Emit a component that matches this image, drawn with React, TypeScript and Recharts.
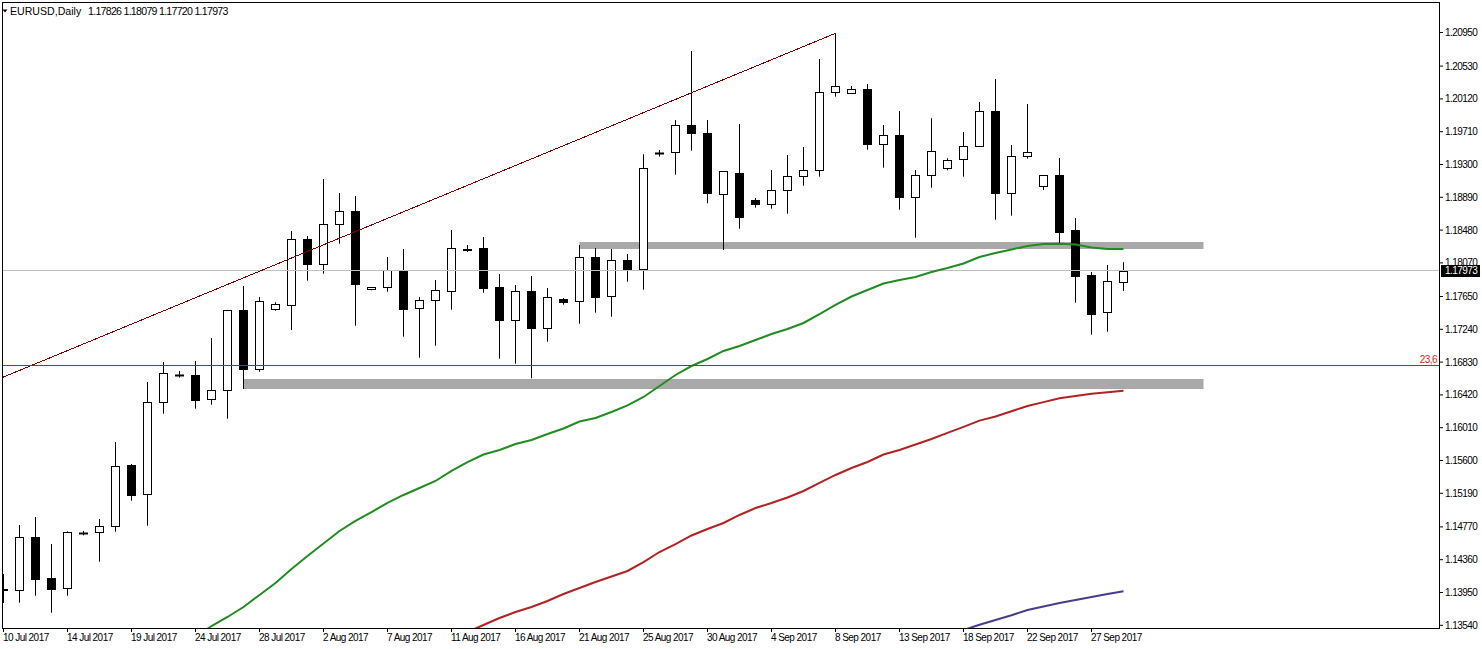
import React from 'react';
import { ComposedChart, Bar, Line, XAxis, YAxis, ReferenceLine, ReferenceArea } from 'recharts';

const W = 1482;
const H = 649;
const FONT = '"Liberation Sans", Arial, sans-serif';

const symbolTitle = 'EURUSD,Daily';

const opens = [
  1.13986, 1.13978, 1.1464, 1.14128, 1.14003, 1.14695, 1.14703, 1.14778, 1.1554, 1.15178,
  1.16328, 1.16675, 1.16669, 1.16365, 1.16478, 1.17478, 1.16748, 1.1749, 1.1754, 1.18365,
  1.1806, 1.18553, 1.18715, 1.1774, 1.17765, 1.17978, 1.17503, 1.17603, 1.17715, 1.18236,
  1.18253, 1.17765, 1.17353, 1.17715, 1.1726, 1.17619, 1.1759, 1.1814, 1.17653, 1.18103,
  1.17998, 1.19445, 1.19453, 1.1979, 1.1969, 1.18935, 1.1919, 1.18853, 1.18803, 1.18978,
  1.19153, 1.19228, 1.20203, 1.2019, 1.2024, 1.19553, 1.19665, 1.18898, 1.19165, 1.19253,
  1.19365, 1.19528, 1.19965, 1.18948, 1.19403, 1.19028, 1.19165, 1.18478, 1.17915, 1.17453,
  1.17826,
];
const highs = [
  1.14181, 1.14794, 1.14894, 1.14556, 1.14715, 1.14719, 1.14869, 1.15831, 1.15556, 1.16581,
  1.16831, 1.16719, 1.16844, 1.17131, 1.17481, 1.17781, 1.17644, 1.17578, 1.18469, 1.18406,
  1.19119, 1.18944, 1.18906, 1.17769, 1.18144, 1.18244, 1.17644, 1.17856, 1.18481, 1.18294,
  1.18394, 1.17931, 1.17794, 1.17906, 1.17756, 1.17631, 1.18294, 1.18256, 1.18244, 1.18181,
  1.19428, 1.19481, 1.19856, 1.20719, 1.19856, 1.19215, 1.19806, 1.18881, 1.19231, 1.19419,
  1.19519, 1.20619, 1.2094, 1.20281, 1.20306, 1.19794, 1.19969, 1.19231, 1.19878, 1.19378,
  1.19706, 1.20081, 1.20369, 1.19544, 1.20056, 1.19165, 1.19381, 1.18631, 1.17956, 1.18044,
  1.18079,
];
const lows = [
  1.13819, 1.13823, 1.1391, 1.13698, 1.1391, 1.14665, 1.14335, 1.1471, 1.15098, 1.14785,
  1.16185, 1.16635, 1.16248, 1.16298, 1.16123, 1.16494, 1.1671, 1.17473, 1.17231, 1.17848,
  1.17935, 1.1831, 1.17285, 1.17728, 1.1771, 1.17148, 1.16885, 1.17035, 1.17485, 1.18206,
  1.17698, 1.16873, 1.1681, 1.16628, 1.17085, 1.17548, 1.1731, 1.17448, 1.17398, 1.17835,
  1.17735, 1.19398, 1.19173, 1.19473, 1.18815, 1.18231, 1.18498, 1.1876, 1.18748, 1.18685,
  1.19035, 1.19148, 1.20148, 1.2019, 1.19485, 1.1926, 1.18735, 1.18385, 1.1901, 1.19228,
  1.19148, 1.19528, 1.1861, 1.1866, 1.19373, 1.18981, 1.18315, 1.17573, 1.17173, 1.1721,
  1.1772,
];
const closes = [
  1.13994, 1.1464, 1.14115, 1.13998, 1.14703, 1.147, 1.14778, 1.15528, 1.15173, 1.16328,
  1.1669, 1.1667, 1.1636, 1.16478, 1.17478, 1.16748, 1.1759, 1.17553, 1.18365, 1.1806,
  1.18553, 1.18715, 1.1781, 1.17765, 1.17978, 1.17498, 1.17603, 1.17728, 1.18253, 1.18244,
  1.1776, 1.17353, 1.17715, 1.1726, 1.1764, 1.17585, 1.1814, 1.17648, 1.18103, 1.17998,
  1.19253, 1.1945, 1.1979, 1.19698, 1.18948, 1.19215, 1.18648, 1.18803, 1.18978, 1.19153,
  1.19228, 1.20203, 1.20278, 1.2024, 1.1956, 1.19665, 1.18898, 1.19165, 1.19465, 1.19353,
  1.19528, 1.19965, 1.18948, 1.19403, 1.19453, 1.19165, 1.1846, 1.1791, 1.17435, 1.1784,
  1.17973,
];

const N = null;
const maGreen = [
  N, N, N, N, N, N, N, N, N, N, N, N,
  1.13394, 1.13531, 1.13644, 1.13769, 1.13919, 1.14069, 1.14244, 1.14406,
  1.14563, 1.14719, 1.14844, 1.14956, 1.15069, 1.15169, 1.15256, 1.15344, 1.15469, 1.15581,
  1.15675, 1.15731, 1.15806, 1.15856, 1.15931, 1.16, 1.16088, 1.16131, 1.16206, 1.16288,
  1.16394, 1.16531, 1.16669, 1.16781, 1.16869, 1.16969, 1.17031, 1.17106, 1.17181, 1.17244,
  1.17319, 1.17431, 1.17544, 1.1765, 1.17731, 1.17813, 1.17856, 1.17894, 1.17956, 1.18006,
  1.18063, 1.18144, 1.18194, 1.18238, 1.18281, 1.18306, 1.1831, 1.183, 1.18263, 1.18244,
  1.18244,
];
const maRed = [
  N, N, N, N, N, N, N, N, N, N, N, N, N, N, N, N, N, N, N, N,
  N, N, N, N, N, N, N, N, N,
  1.13456,
  1.13544, 1.13631, 1.13706, 1.13769, 1.13844, 1.13931, 1.14006, 1.14081, 1.1415, 1.14219,
  1.14331, 1.14456, 1.14556, 1.14663, 1.14744, 1.14819, 1.14919, 1.15006, 1.15069, 1.15138,
  1.15219, 1.15319, 1.15419, 1.15506, 1.15581, 1.15675, 1.15731, 1.158, 1.15869, 1.15946,
  1.16021, 1.16099, 1.16151, 1.16216, 1.16281, 1.1633, 1.16378, 1.16406, 1.16434, 1.16453,
  1.16473,
];
const maBlue = [
  N, N, N, N, N, N, N, N, N, N, N, N, N, N, N, N, N, N, N, N,
  N, N, N, N, N, N, N, N, N, N, N, N, N, N, N, N, N, N, N, N,
  N, N, N, N, N, N, N, N, N, N, N, N, N, N, N, N, N, N, N, N,
  1.13481, 1.13546, 1.13606, 1.13666, 1.13731, 1.13775, 1.13819, 1.13856, 1.13894, 1.13931,
  1.13965,
];

const dateTickIndex = [0, 4, 8, 12, 16, 20, 24, 28, 32, 36, 40, 44, 48, 52, 56, 60, 64, 68];
const dateTickLabels = [
  '10 Jul 2017', '14 Jul 2017', '19 Jul 2017', '24 Jul 2017', '28 Jul 2017', '2 Aug 2017',
  '7 Aug 2017', '11 Aug 2017', '16 Aug 2017', '21 Aug 2017', '25 Aug 2017', '30 Aug 2017',
  '4 Sep 2017', '8 Sep 2017', '13 Sep 2017', '18 Sep 2017', '22 Sep 2017', '27 Sep 2017',
];
const priceTicks = [
  1.2095, 1.2053, 1.2012, 1.1971, 1.193, 1.1889, 1.1848, 1.1807, 1.1765, 1.1724,
  1.1683, 1.1642, 1.1601, 1.156, 1.1519, 1.1477, 1.1436, 1.1395, 1.1354,
];

const bidPrice = 1.17973;
const fibLevel = 1.16788;
const fibText = '23,6';
const trendIdx = [-0.09375, 52];
const trendPrice = [1.16636, 1.2094];
const zoneUpperIdx = [36, 75];
const zoneUpperPrice = [1.18244, 1.18331];
const zoneLowerIdx = [15, 75];
const zoneLowerPrice = [1.16494, 1.16619];

const data = opens.map((o, i) => ({
  i,
  o,
  h: highs[i],
  l: lows[i],
  c: closes[i],
  g: maGreen[i],
  r: maRed[i],
  b: maBlue[i],
}));

const Candle = (props: any) => {
  const { x, y, width, height, payload } = props;
  if (!payload || x == null || y == null || height == null) return null;
  const { o, h, l, c } = payload;
  const top = Math.min(y, y + height);
  const hh = Math.abs(height);
  const cx = Math.round(x + width / 2 - 0.5) + 0.5;
  const ppx = hh / (h - l);
  const yOf = (p: number) => top + (h - p) * ppx;
  const bt = Math.round(yOf(Math.max(o, c))) + 0.5;
  const bb = Math.round(yOf(Math.min(o, c))) + 0.5;
  const bull = c >= o;
  return (
    <g>
      <line x1={cx} x2={cx} y1={top} y2={top + hh} stroke="#000" strokeWidth={1} />
      {bb - bt < 1 ? (
        <line x1={cx - 4.5} x2={cx + 4.5} y1={bt} y2={bt} stroke="#000" strokeWidth={2} />
      ) : (
        <rect x={cx - 4} y={bt} width={8} height={bb - bt} fill={bull ? '#fff' : '#000'} stroke="#000" strokeWidth={1} />
      )}
    </g>
  );
};

const XTick = (props: any) => {
  const { x, y, payload } = props;
  const k = dateTickIndex.indexOf(payload.value);
  return (
    <text x={x - 0.5} y={y} dy="0.71em" textAnchor="start" fontSize={10} fontFamily={FONT} letterSpacing={-0.55} fill="#000">
      {k >= 0 ? dateTickLabels[k] : ''}
    </text>
  );
};

const YTick = (props: any) => {
  const { x, y, payload } = props;
  return (
    <text x={x} y={y} dy="0.355em" textAnchor="start" fontSize={10} fontFamily={FONT} letterSpacing={-0.55} fill="#000">
      {Number(payload.value).toFixed(5)}
    </text>
  );
};

const BidLabel = (props: any) => {
  const vb = props.viewBox || {};
  const x = (vb.x || 0) + (vb.width || 0) + 2;
  const y = vb.y || 0;
  return (
    <g>
      <rect x={x} y={Math.round(y) - 6} width={39} height={12} fill="#000" />
      <text x={x + 4} y={y} dy="0.355em" fontSize={10} fontFamily={FONT} letterSpacing={-0.55} fill="#fff">
        {bidPrice.toFixed(5)}
      </text>
    </g>
  );
};

const FibLabel = (props: any) => {
  const vb = props.viewBox || {};
  const x = (vb.x || 0) + (vb.width || 0) - 2;
  const y = (vb.y || 0) - 2;
  return (
    <text x={x} y={y} textAnchor="end" fontSize={10} fontFamily={FONT} letterSpacing={-0.55} fill="#d02828">
      {fibText}
    </text>
  );
};

export default function App() {
  return (
    <div style={{ position: 'absolute', left: 0, top: 0, width: W, height: H, background: '#fff', overflow: 'hidden' }}>
      <ComposedChart width={W} height={H} data={data} margin={{ top: 2, right: 0, bottom: 0, left: 2 }}>
        <XAxis
          type="number"
          dataKey="i"
          domain={[-0.09375, 89.71875]}
          allowDataOverflow
          ticks={dateTickIndex}
          interval={0}
          tick={<XTick />}
          tickSize={4}
          tickLine={{ stroke: '#000' }}
          axisLine={false}
          height={21}
        />
        <YAxis
          orientation="right"
          type="number"
          domain={[1.1350625, 1.2133125]}
          allowDataOverflow
          ticks={priceTicks}
          interval={0}
          tick={<YTick />}
          tickSize={4}
          tickLine={{ stroke: '#000' }}
          axisLine={false}
          width={43}
        />
        <ReferenceArea
          x1={zoneUpperIdx[0]}
          x2={zoneUpperIdx[1]}
          y1={zoneUpperPrice[0]}
          y2={zoneUpperPrice[1]}
          fill="#a9a9a9"
          fillOpacity={1}
          stroke="none"
          ifOverflow="visible"
        />
        <ReferenceArea
          x1={zoneLowerIdx[0]}
          x2={zoneLowerIdx[1]}
          y1={zoneLowerPrice[0]}
          y2={zoneLowerPrice[1]}
          fill="#a9a9a9"
          fillOpacity={1}
          stroke="none"
          ifOverflow="visible"
        />
        <ReferenceLine y={bidPrice} stroke="#c0c0c0" strokeWidth={1} shapeRendering="crispEdges" label={<BidLabel />} ifOverflow="visible" />
        <Bar dataKey={(d: any) => [d.l, d.h]} shape={(p: any) => <Candle {...p} />} isAnimationActive={false} />
        <Line dataKey="g" type="linear" stroke="#228b22" strokeWidth={2} dot={false} activeDot={false} isAnimationActive={false} />
        <Line dataKey="r" type="linear" stroke="#b22222" strokeWidth={2} dot={false} activeDot={false} isAnimationActive={false} />
        <Line dataKey="b" type="linear" stroke="#483d8b" strokeWidth={2} dot={false} activeDot={false} isAnimationActive={false} />
        <ReferenceLine
          segment={[
            { x: trendIdx[0], y: trendPrice[0] },
            { x: trendIdx[1], y: trendPrice[1] },
          ]}
          stroke="#800000"
          strokeWidth={1}
          shapeRendering="crispEdges"
          ifOverflow="visible"
        />
        <ReferenceLine y={fibLevel} stroke="#a52a2a" strokeWidth={1} shapeRendering="crispEdges" label={<FibLabel />} ifOverflow="visible" />
      </ComposedChart>
      <div
        style={{
          position: 'absolute',
          left: 2,
          top: 2,
          width: 1438,
          height: 627,
          border: '1px solid #000',
          boxSizing: 'border-box',
          pointerEvents: 'none',
        }}
      />
      <svg style={{ position: 'absolute', left: 0, top: 0, pointerEvents: 'none' }} width={320} height={20}>
        <polygon points="2.5,9.5 7.5,9.5 5,12.5" fill="#000" />
        <text x={10} y={15} fontSize={10.6} fontFamily={FONT} fill="#000">
          {symbolTitle}
        </text>
        <text x={88} y={15} fontSize={10.6} fontFamily={FONT} letterSpacing={-0.72} fill="#000">
          {[opens[70], highs[70], lows[70], closes[70]].map((v) => v.toFixed(5)).join(' ')}
        </text>
      </svg>
    </div>
  );
}
